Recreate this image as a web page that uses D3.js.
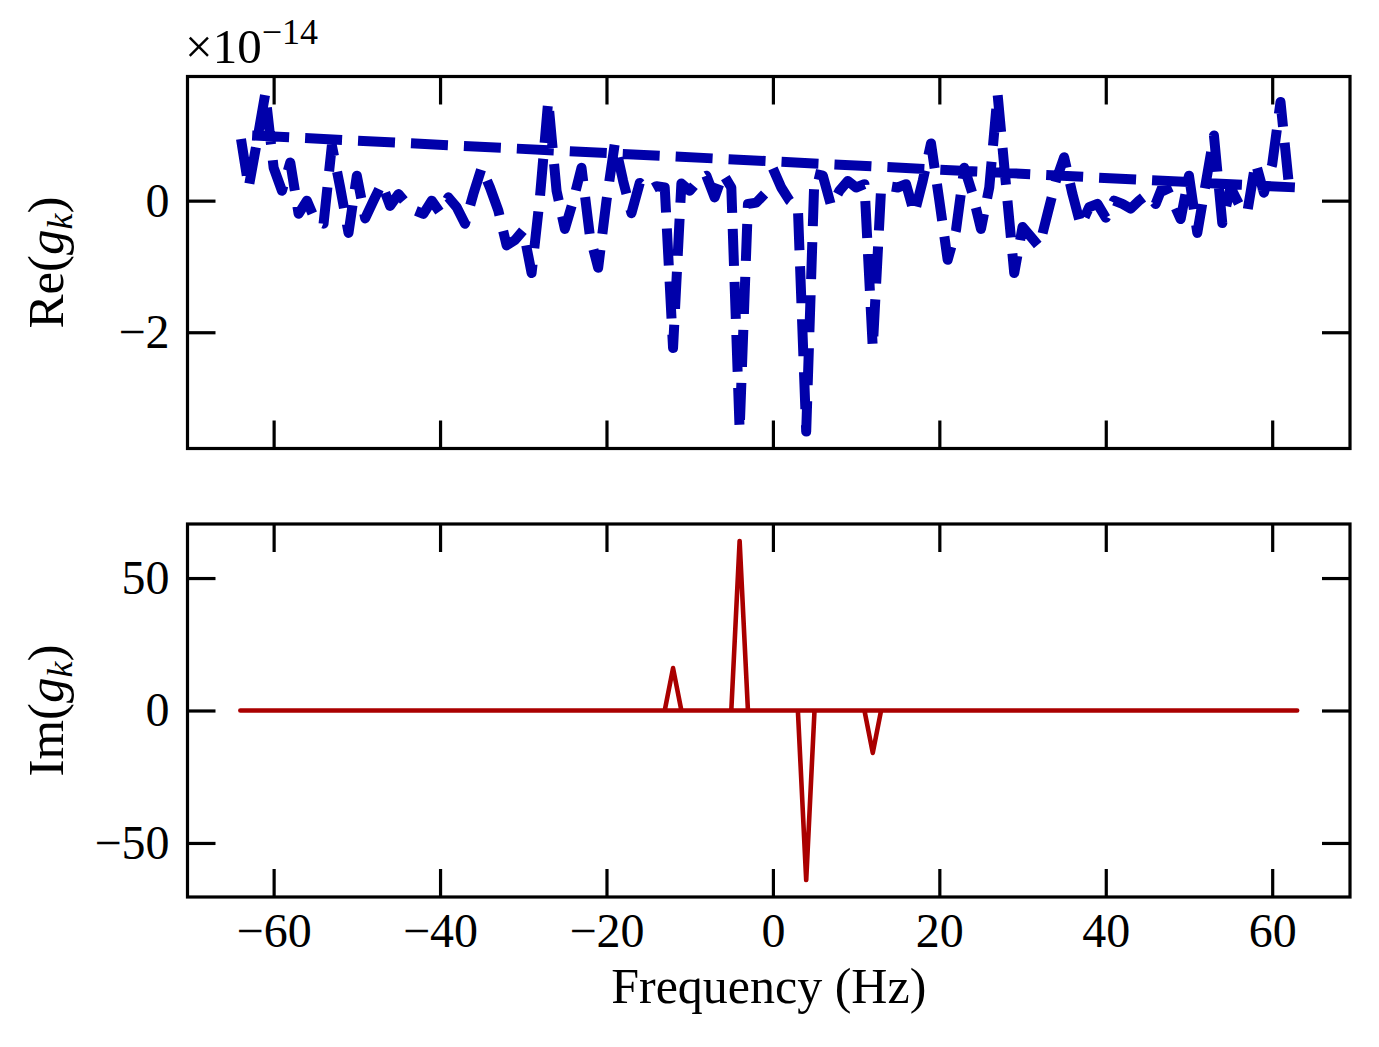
<!DOCTYPE html>
<html><head><meta charset="utf-8">
<script src="https://cdn.jsdelivr.net/npm/d3@7"></script>
<style>
body{margin:0;background:#fff}
svg{display:block}
text{font-family:"Liberation Serif","Times New Roman",serif;fill:#000}
</style>
</head><body>
<svg id="chart" width="1379" height="1047"></svg>
<script>
// Frequencies in FFT order (0..63, then -64..-1)
const freq = [0,1,2,3,4,5,6,7,8,9,10,11,12,13,14,15,16,17,18,19,20,21,22,23,24,25,26,27,28,29,30,31,
  32,33,34,35,36,37,38,39,40,41,42,43,44,45,46,47,48,49,50,51,52,53,54,55,56,57,58,59,60,61,62,63,
  -64,-63,-62,-61,-60,-59,-58,-57,-56,-55,-54,-53,-52,-51,-50,-49,-48,-47,-46,-45,-44,-43,-42,-41,-40,-39,-38,-37,-36,-35,-34,-33,
  -32,-31,-30,-29,-28,-27,-26,-25,-24,-23,-22,-21,-20,-19,-18,-17,-16,-15,-14,-13,-12,-11,-10,-9,-8,-7,-6,-5,-4,-3,-2,-1];

// Re(g_k), in units of 1e-14
const reValues = [
  0.49, 0.2, 0.0, -0.1, -3.51, 0.41, 0.38, -0.08, 0.15, 0.3,
  0.2, 0.25, -2.24, 0.18, 0.22, 0.2, 0.25, -0.2, 0.3, 0.87,
  0.0, -0.9, -0.45, 0.5, 0.1, -0.43, 0.2, 1.62, 0.25, -1.1,
  -0.4, -0.55, -0.7, -0.2, 0.3, 0.66, 0.1, -0.38, -0.1, -0.05,
  -0.26, 0.0, -0.05, -0.12, 0.0, 0.1, -0.05, 0.27, 0.0, -0.28,
  0.38, -0.49, 0.25, 0.99, -0.34, 0.2, -0.05, -0.18, 0.58, 0.12,
  0.55, 1.5, 0.25, 0.2,
  1.0, 0.2, 0.9, 1.63, 0.5, 0.15, 0.58, -0.2, 0.0, -0.3,
  -0.35, 0.84, 0.2, -0.49, 0.38, -0.27, 0.0, 0.26, -0.08, 0.1,
  -0.05, -0.15, -0.2, 0.0, -0.18, 0.05, -0.1, -0.35, 0.1, 0.5,
  0.2, -0.15, -0.68, -0.6, -0.45, -1.1, 0.05, 1.52, 0.15, -0.43,
  0.0, 0.5, -0.53, -1.02, 0.0, 0.87, 0.3, -0.19, 0.27, 0.15,
  0.22, 0.2, -2.24, 0.26, 0.15, 0.3, 0.38, 0.05, 0.41, 0.2,
  -3.49, -0.05, -0.03, 0.1
];

// Im(g_k)
const imValues = [
  0,0,0,0,-64,0,0,0,0,0,0,0,-16,0,0,0,0,0,0,0,0,0,0,0,0,0,0,0,0,0,0,0,
  0,0,0,0,0,0,0,0,0,0,0,0,0,0,0,0,0,0,0,0,0,0,0,0,0,0,0,0,0,0,0,0,
  0,0,0,0,0,0,0,0,0,0,0,0,0,0,0,0,0,0,0,0,0,0,0,0,0,0,0,0,0,0,0,0,
  0,0,0,0,0,0,0,0,0,0,0,0,0,0,0,0,0,0,0,0,16,0,0,0,0,0,0,0,64,0,0,0
];

const xTicks = [-60,-40,-20,0,20,40,60];
const reTicks = [-2,0];
const imTicks = [-50,0,50];
const xLabel = "Frequency (Hz)";
const reOffset = "−14";

const svg = d3.select("#chart");
const FS = 48;
const L = 187.5, R = 1350;
const top1 = [76.5, 448.5], top2 = [524, 897];
const pad = ([a,b]) => [a - 0.05*(b-a), b + 0.05*(b-a)];
const fmt = d => d < 0 ? "−" + Math.abs(d) : String(d);

const x = d3.scaleLinear().domain(pad(d3.extent(freq))).range([L, R]);
const y1 = d3.scaleLinear().domain(pad(d3.extent(reValues))).range([top1[1], top1[0]]);
const y2 = d3.scaleLinear().domain(pad(d3.extent(imValues))).range([top2[1], top2[0]]);

const reData = freq.map((f,i)=>({f, v: reValues[i]}));
const imData = freq.map((f,i)=>({f, v: imValues[i]}));

function panel(y, yr, ticksY, data, color, width, dash, showX) {
  const g = svg.append("g");
  const clipId = "clip" + Math.round(yr[0]);
  svg.append("clipPath").attr("id", clipId).append("rect")
    .attr("x", L).attr("y", yr[0]).attr("width", R-L).attr("height", yr[1]-yr[0]);
  const line = d3.line().x(d=>x(d.f)).y(d=>y(d.v));
  const p = g.append("path").datum(data).attr("d", line)
    .attr("fill","none").attr("stroke", color).attr("stroke-width", width)
    .attr("clip-path", `url(#${clipId})`);
  if (dash) p.attr("stroke-dasharray", dash).attr("stroke-linejoin","round").attr("stroke-linecap","butt");
  else p.attr("stroke-linejoin","round").attr("stroke-linecap","square");

  const tl = 28, tw = 3.2;
  const ax = (a) => a.tickSizeInner(-tl).tickSizeOuter(0);
  const style = sel => {
    sel.select(".domain").remove();
    sel.selectAll(".tick line").attr("stroke","#000").attr("stroke-width",tw);
    sel.selectAll("text").attr("font-size",FS).attr("font-family",'"Liberation Serif","Times New Roman",serif').attr("fill","#000");
  };
  g.append("g").attr("transform",`translate(${L},0)`)
    .call(ax(d3.axisLeft(y)).tickValues(ticksY).tickFormat(fmt).tickPadding(18)).call(style);
  g.append("g").attr("transform",`translate(${R},0)`)
    .call(ax(d3.axisRight(y)).tickValues(ticksY).tickFormat("")).call(style);
  g.append("g").attr("transform",`translate(0,${yr[0]})`)
    .call(ax(d3.axisTop(x)).tickValues(xTicks).tickFormat("")).call(style);
  g.append("g").attr("transform",`translate(0,${yr[1]})`)
    .call(ax(d3.axisBottom(x)).tickValues(xTicks).tickFormat(showX ? fmt : "").tickPadding(16)).call(style);
  g.append("rect").attr("x",L).attr("y",yr[0]).attr("width",R-L).attr("height",yr[1]-yr[0])
    .attr("fill","none").attr("stroke","#000").attr("stroke-width",3.2);
}

panel(y1, top1, reTicks, reData, "#0000aa", 10, "37,16", false);
panel(y2, top2, imTicks, imData, "#aa0000", 4.6, null, true);

// Offset text
const off = svg.append("text").attr("x",185).attr("y",63).attr("font-size",49);
off.append("tspan").text("×10");
off.append("tspan").attr("font-size",36).attr("dy",-19).text(reOffset);

// Y labels
function ylab(cy, pre) {
  const t = svg.append("text").attr("transform",`translate(63,${cy}) rotate(-90)`)
    .attr("text-anchor","middle").attr("font-size",51);
  t.append("tspan").text(pre + "(");
  t.append("tspan").attr("font-style","italic").text("g");
  t.append("tspan").attr("font-style","italic").attr("font-size",36).attr("dy",9).text("k");
  t.append("tspan").attr("dy",-9).text(")");
}
ylab((top1[0]+top1[1])/2, "Re");
ylab((top2[0]+top2[1])/2, "Im");

svg.append("text").attr("x",(L+R)/2).attr("y",1003).attr("text-anchor","middle")
  .attr("font-size",50).text(xLabel);
</script>
</body></html>
